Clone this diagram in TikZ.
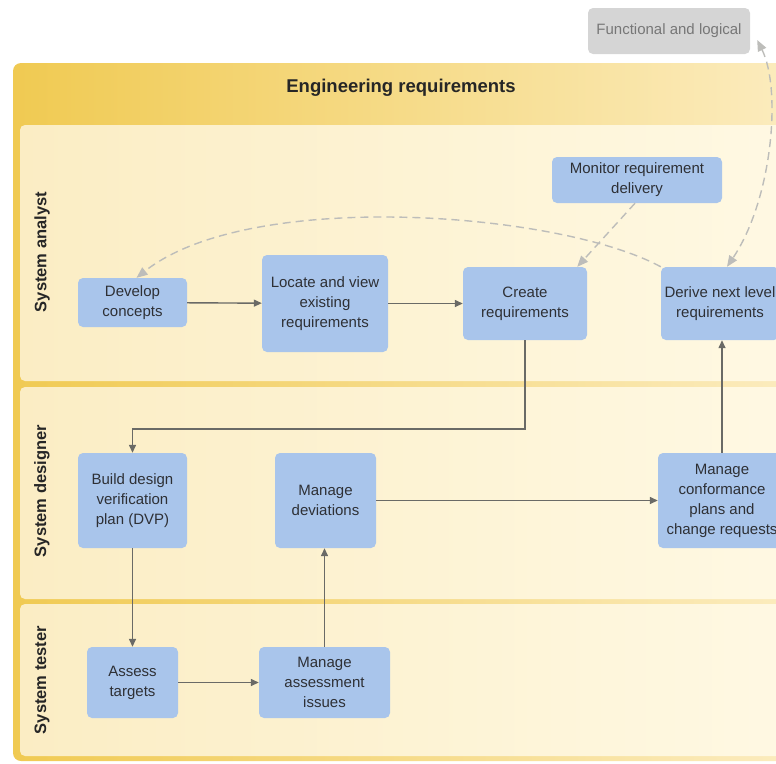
\documentclass[tikz,border=0pt]{standalone}
\usepackage{fontspec}
\setmainfont{Liberation Sans}
\usetikzlibrary{arrows.meta,positioning}

\definecolor{panelL}{HTML}{F0CA52}
\definecolor{panelR}{HTML}{FCEDC2}
\definecolor{laneL}{HTML}{FBEDC4}
\definecolor{laneR}{HTML}{FFF9E4}
\definecolor{taskblue}{HTML}{A9C5EB}
\definecolor{tasktext}{HTML}{2E3035}
\definecolor{flow}{HTML}{6A6A66}
\definecolor{dashgray}{HTML}{BDBDBA}
\definecolor{extfill}{HTML}{D5D5D5}
\definecolor{exttext}{HTML}{777777}

\tikzset{
  task/.style={rectangle, rounded corners=5pt, fill=taskblue, text=tasktext,
    align=center, font=\fontsize{15}{20}\selectfont, inner sep=0pt},
  extbox/.style={rectangle, rounded corners=5pt, fill=extfill, text=exttext,
    align=center, font=\fontsize{15}{18}\selectfont, inner sep=0pt},
  flowarrow/.style={draw=flow, line width=1.4pt,
    -{Triangle[length=8pt,width=7pt]}},
  linkarrow/.style={draw=dashgray, line width=1.4pt, dash pattern=on 8pt off 5pt,
    -{Triangle[length=11pt,width=9pt]}},
  lanelabel/.style={rotate=90, font=\bfseries\fontsize{16.5}{18}\selectfont, text=black!85},
}

\begin{document}
\begin{tikzpicture}[x=1pt,y=-1pt]
\useasboundingbox (0,0) rectangle (776,763);
\begin{scope}
\clip (0,0) rectangle (776,763);

% outer swimlane panel with its header band
\shade[left color=panelL, right color=panelR, rounded corners=8pt]
  (13,63) rectangle (820,761);
\node[font=\bfseries\fontsize{18.5}{20}\selectfont, text=black!85] (title) at (401,88)
  {Engineering requirements};

% the three lanes
\shade[left color=laneL, right color=laneR, rounded corners=5pt]
  (20,125) rectangle (810,381);
\shade[left color=laneL, right color=laneR, rounded corners=5pt]
  (20,387) rectangle (810,599);
\shade[left color=laneL, right color=laneR, rounded corners=5pt]
  (20,604) rectangle (810,756);

\node[lanelabel] (laneA) at (42,252) {System analyst};
\node[lanelabel] (laneB) at (42,491) {System designer};
\node[lanelabel] (laneC) at (42,680) {System tester};

% external element
\node[extbox, minimum width=162pt, minimum height=46pt] (func) at (669,31)
  {Functional and logical};

% tasks
\node[task, minimum width=109pt, minimum height=49pt] (dev) at (132.5,302.5)
  {Develop\\concepts};
\node[task, minimum width=126pt, minimum height=97pt] (loc) at (325,303.5)
  {Locate and view\\existing\\requirements};
\node[task, minimum width=124pt, minimum height=73pt] (cre) at (525,303.5)
  {Create\\requirements};
\node[task, minimum width=118pt, minimum height=73pt] (der) at (720,303.5)
  {Derive next level\\requirements};
\node[task, minimum width=170pt, minimum height=46pt] (mon) at (637,180)
  {Monitor requirement\\delivery};
\node[task, minimum width=109pt, minimum height=95pt] (dvp) at (132.5,500.5)
  {Build design\\verification\\plan (DVP)};
\node[task, minimum width=101pt, minimum height=95pt] (devi) at (325.5,500.5)
  {Manage\\deviations};
\node[task, minimum width=128pt, minimum height=95pt] (conf) at (722,500.5)
  {Manage\\conformance\\plans and\\change requests};
\node[task, minimum width=91pt, minimum height=71pt] (ass) at (132.5,682.5)
  {Assess\\targets};
\node[task, minimum width=131pt, minimum height=71pt] (mai) at (324.5,682.5)
  {Manage\\assessment\\issues};

% solid flow
\coordinate (turnA) at (cre.south |- 0,429);
\coordinate (turnB) at (dvp.north |- 0,429);
\draw[flowarrow] (dev) -- (loc);
\draw[flowarrow] (loc.east |- cre) -- (cre);
\draw[flowarrow] (cre.south) -- (turnA) -- (turnB) -- (dvp.north);
\draw[flowarrow] (dvp.south) -- (dvp.south |- ass.north);
\draw[flowarrow] (ass) -- (mai);
\draw[flowarrow] (mai.north) -- (mai.north |- devi.south);
\draw[flowarrow] (devi) -- (conf.west |- devi);
\draw[flowarrow] (conf.north) -- (conf.north |- der.south);

% dashed links
\draw[linkarrow] (der.north west) .. controls (560,212) and (250,188) .. ([xshift=4pt]dev.north);
\draw[linkarrow] ([xshift=-2pt]mon.south) -- ([xshift=-10pt]cre.north east);
\draw[linkarrow, {Triangle[length=11pt,width=9pt]}-{Triangle[length=11pt,width=9pt]}]
  ([shift={(7pt,-9pt)}]func.east) .. controls (782,90) and (772,200) .. ([xshift=7pt]der.north);
\end{scope}
\end{tikzpicture}
\end{document}
